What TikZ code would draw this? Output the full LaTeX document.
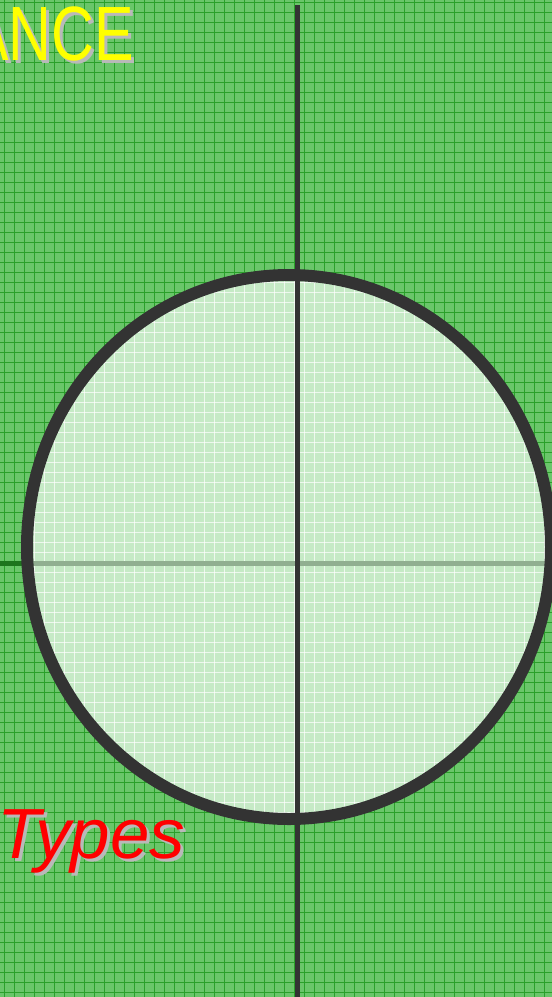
\documentclass[tikz,border=0pt]{standalone}
\usepackage{fontspec}
\setmainfont{Liberation Sans}
\usepackage{graphicx}
\usetikzlibrary{calc}
\definecolor{fieldgreen}{RGB}{106,198,106}
\definecolor{gridgreen}{RGB}{42,160,42}
\definecolor{discgreen}{RGB}{198,234,198}
\definecolor{ringgray}{RGB}{51,51,51}
\definecolor{axisgreen}{RGB}{30,118,30}
\definecolor{axisgrey}{RGB}{145,175,145}
\definecolor{titleyellow}{RGB}{255,255,0}
\definecolor{shadowgray}{RGB}{185,185,185}
\definecolor{typesred}{RGB}{255,0,0}

\begin{document}
\begin{tikzpicture}[x=1pt, y=-1pt, inner sep=0pt,
  shadowtext/.style={shadowgray},
  bigtitle/.style={font=\fontsize{77}{77}\selectfont, anchor=base east},
  typeslabel/.style={font=\fontsize{71}{71}\selectfont\itshape, anchor=base west}]
\useasboundingbox (0,0) rectangle (552,997);
\fill[fieldgreen](0,0) rectangle (552,997);
\foreach \x in {4,14,...,554}\draw[gridgreen,line width=1](\x,0)--(\x,997);
\foreach \y in {2,12,...,992}\draw[gridgreen,line width=1](0,\y)--(552,\y);
% horizontal axis
\coordinate (hleft) at (0,563);
\coordinate (hright) at (552,563);
\draw[axisgreen,line width=5](hleft)--(hright);
% disc
\coordinate (centre) at (289,547);
\fill[discgreen](centre) ellipse [x radius=262, y radius=272];
\begin{scope}
\clip (centre) ellipse [x radius=262, y radius=272];
\foreach \x in {4,14,...,554}\draw[white,opacity=0.7,line width=1](\x,0)--(\x,997);
\foreach \y in {2,12,...,992}\draw[white,opacity=0.7,line width=1](0,\y)--(552,\y);
\draw[axisgrey,line width=5](hleft)--(hright);
\end{scope}
\draw[ringgray,line width=12](centre) ellipse [x radius=262, y radius=272];
% vertical axis
\coordinate (vtop) at (297,5);
\coordinate (vbot) at (297,997);
\draw[ringgray,line width=5](vtop)--(vbot);
% labels
\node[bigtitle,shadowtext] (titleshadow) at (137,63){\scalebox{0.77}[1]{ANCE}};
\node[bigtitle,titleyellow] (title) at (134,60){\scalebox{0.77}[1]{ANCE}};
\node[typeslabel,shadowtext] (typesshadow) at (0,861){Types};
\node[typeslabel,typesred] (types) at (-3,858){Types};
\end{tikzpicture}
\end{document}
